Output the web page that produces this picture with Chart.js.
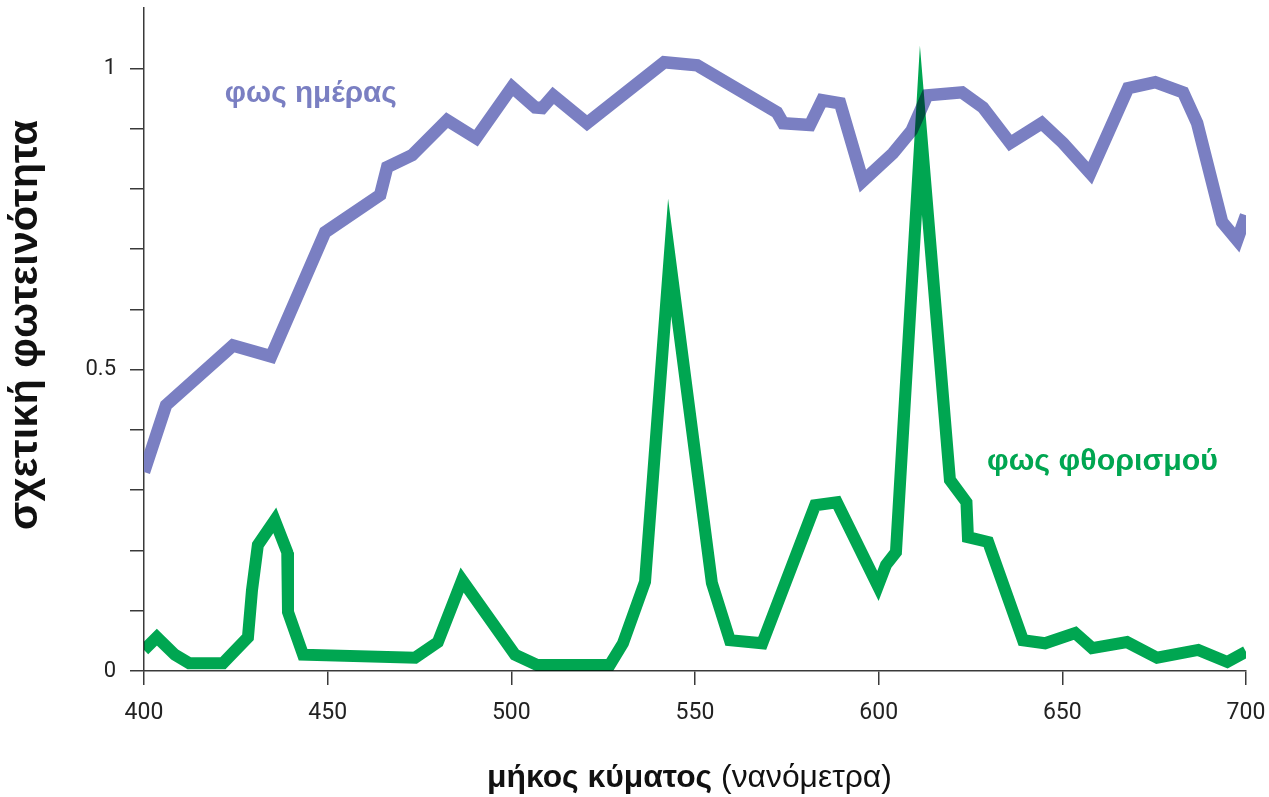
<!DOCTYPE html>
<html>
<head>
<meta charset="utf-8">
<script src="https://cdn.jsdelivr.net/npm/chart.js@4.4.1/dist/chart.umd.min.js"></script>
<style>
	html, body { margin: 0; padding: 0; background: #fff; }
	#cardChart { width: 1269px; height: 797px; }
</style>
</head>
<body>
<div id="cardChart"><canvas id="myChart"></canvas></div>
<script>
// wavelength (nm) and relative brightness
const dayNm = [400, 406, 424.2, 434.6, 449.3, 464.3, 466.2, 473, 482.5, 490.4, 500.2, 506.5, 508.4, 511.4, 520.6,
	541.6, 550.6, 572.3, 574, 581.3, 584.6, 589.5, 595.7, 603.9, 609, 613.2, 622.7, 628.4, 635.8, 644.4, 650.2,
	657.6, 667.9, 675.3, 682.9, 686.7, 693.5, 697.6, 700];
const dayVal = [0.33, 0.441, 0.54, 0.522, 0.728, 0.79, 0.836, 0.856, 0.914, 0.884, 0.969, 0.935, 0.934, 0.955, 0.909,
	1.01, 1.005, 0.927, 0.909, 0.906, 0.947, 0.942, 0.813, 0.859, 0.897, 0.955, 0.96, 0.935, 0.876, 0.909, 0.876,
	0.826, 0.967, 0.977, 0.96, 0.909, 0.745, 0.715, 0.756];

const fluoNm = [400, 403.5, 408.4, 412.3, 421.5, 428.3, 429.4, 431, 435.6, 439, 439.2, 443.3, 473.8, 480, 486.6,
	501, 507, 526.8, 530.4, 536.4, 543.1, 554.6, 559.5, 568.3, 582.7, 588.6, 599.8, 602, 604.7, 611.5, 619.4,
	623.9, 624.3, 629.8, 639.3, 645.3, 653.5, 658.1, 667.6, 675.8, 687, 694.9, 700];
const fluoVal = [0.035, 0.056, 0.027, 0.013, 0.013, 0.056, 0.134, 0.209, 0.25, 0.197, 0.098, 0.027, 0.022, 0.048, 0.151,
	0.027, 0.01, 0.01, 0.046, 0.148, 0.686, 0.146, 0.051, 0.046, 0.275, 0.28, 0.141, 0.176, 0.197, 0.897, 0.317,
	0.28, 0.222, 0.214, 0.051, 0.046, 0.063, 0.038, 0.048, 0.022, 0.035, 0.015, 0.032];

const yLabelled = [0, 0.5, 1];

const dayName = 'φως ημέρας';
const fluoName = 'φως φθορισμού';
const yTitle = 'σχετική φωτεινότητα';
const xTitleBold = 'μήκος κύματος ';
const xTitleNormal = '(νανόμετρα)';

const BLUE = '#7a7fc2';
const GREEN = '#00a651';
const AXIS = '#3a3a3a';
const FAMILY = '"Liberation Sans", Arial, sans-serif';

// font size that makes the text (in parts of given weight) as wide as target
function fitSize(ctx, parts, target) {
	let w = 0;
	parts.forEach(p => {
		ctx.font = p[0] + ' 100px ' + FAMILY;
		w += ctx.measureText(p[1]).width;
	});
	return 100 * target / w;
}

const textPlugin = {
	id: 'spectrumText',
	beforeDatasetsDraw(chart) {
		chart.ctx.miterLimit = 40;
	},
	beforeDatasetDraw(chart, args) {
		if (args.meta.label === fluoName) chart.ctx.globalCompositeOperation = 'multiply';
	},
	afterDatasetDraw(chart) {
		chart.ctx.globalCompositeOperation = 'source-over';
	},
	afterDraw(chart) {
		const ctx = chart.ctx;
		const x = chart.scales.x, y = chart.scales.y;
		ctx.save();
		ctx.textBaseline = 'middle';
		ctx.textAlign = 'left';

		let s = fitSize(ctx, [['bold', dayName]], 172);
		ctx.font = 'bold ' + s + 'px ' + FAMILY;
		ctx.fillStyle = BLUE;
		ctx.fillText(dayName, x.getPixelForValue(422), y.getPixelForValue(0.958));

		s = fitSize(ctx, [['bold', fluoName]], 231);
		ctx.font = 'bold ' + s + 'px ' + FAMILY;
		ctx.fillStyle = GREEN;
		ctx.fillText(fluoName, x.getPixelForValue(629.5), y.getPixelForValue(0.347));

		// axis titles
		ctx.fillStyle = '#111';
		s = fitSize(ctx, [['bold', yTitle]], 410);
		ctx.font = 'bold ' + s + 'px ' + FAMILY;
		ctx.save();
		ctx.translate(26, 325);
		ctx.rotate(-Math.PI / 2);
		ctx.textAlign = 'center';
		ctx.fillText(yTitle, 0, 0);
		ctx.restore();

		s = fitSize(ctx, [['bold', xTitleBold], ['normal', xTitleNormal]], 405);
		ctx.font = 'bold ' + s + 'px ' + FAMILY;
		let left = 487;
		ctx.fillText(xTitleBold, left, 778);
		left += ctx.measureText(xTitleBold).width;
		ctx.font = 'normal ' + s + 'px ' + FAMILY;
		ctx.fillText(xTitleNormal, left, 778);
		ctx.restore();
	}
};

const ctx = document.getElementById('myChart');

new Chart(ctx, {
	type: 'line',
	data: {
		datasets: [{
			label: fluoName,
			data: fluoNm.map((n, i) => ({ x: n, y: fluoVal[i] })),
			borderColor: GREEN,
			borderWidth: 12,
			order: 0
		}, {
			label: dayName,
			data: dayNm.map((n, i) => ({ x: n, y: dayVal[i] })),
			borderColor: BLUE,
			borderWidth: 12.5,
			order: 1
		}]
	},
	options: {
		responsive: true,
		maintainAspectRatio: false,
		animation: false,
		layout: { padding: { top: 8, right: 23, left: 0, bottom: 0 } },
		elements: {
			point: { radius: 0, hoverRadius: 0 },
			line: { tension: 0, borderJoinStyle: 'miter', borderCapStyle: 'butt', fill: false }
		},
		plugins: {
			legend: { display: false },
			tooltip: { enabled: false }
		},
		scales: {
			x: {
				type: 'linear',
				min: 400,
				max: 700,
				afterFit: function (scale) {
					scale.height = 126;
					scale.paddingLeft = 0;
					scale.paddingRight = 0;
				},
				ticks: {
					stepSize: 50,
					padding: 14,
					color: '#222',
					font: { family: 'Roboto', size: 23 }
				},
				grid: { drawOnChartArea: false, drawTicks: true, tickLength: 14, color: AXIS, lineWidth: 1.5 },
				border: { display: true, color: AXIS, width: 1.5 }
			},
			y: {
				min: 0,
				max: 1.1,
				afterFit: function (scale) {
					scale.width = 144;
					scale.paddingTop = 0;
					scale.paddingBottom = 0;
				},
				afterBuildTicks: function (scale) {
					scale.ticks = scale.ticks.filter(t => t.value < 1.05);
				},
				ticks: {
					stepSize: 0.1,
					padding: 14,
					color: '#222',
					font: { family: 'Roboto', size: 22 },
					callback: function (v) {
						const r = Math.round(v * 10) / 10;
						return yLabelled.indexOf(r) >= 0 ? String(r) : '';
					}
				},
				grid: { drawOnChartArea: false, drawTicks: true, tickLength: 14, color: AXIS, lineWidth: 1.5 },
				border: { display: true, color: AXIS, width: 1.5 }
			}
		}
	},
	plugins: [textPlugin]
});
</script>
</body>
</html>
